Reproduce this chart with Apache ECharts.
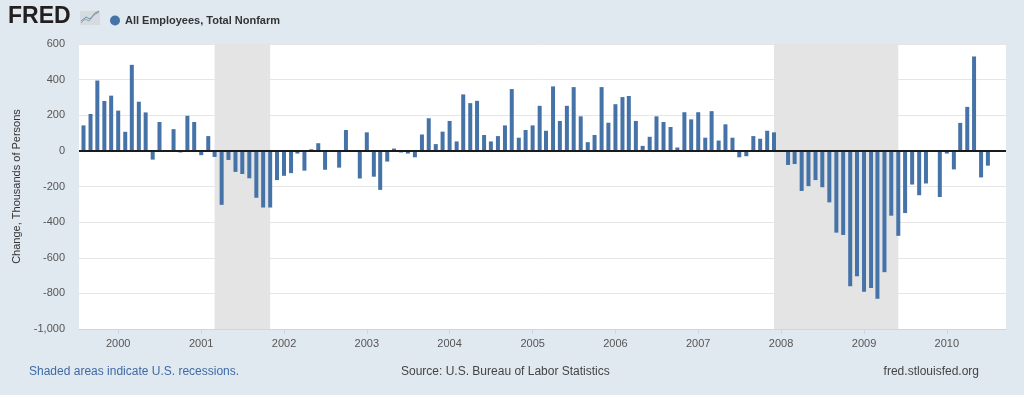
<!DOCTYPE html>
<html>
<head>
<meta charset="utf-8">
<script src="https://cdn.jsdelivr.net/npm/echarts@6/dist/echarts.min.js"></script>
<style>
html,body{margin:0;padding:0;background:#e1e9f0;}
#chart{width:1024px;height:395px;}
</style>
</head>
<body>
<div id="chart"></div>
<script>
// Monthly change, thousands of persons (Aug 1999 - Jul 2010)
const firstMonth = [1999, 8];
const v1999 = [143, 207, 395, 280, 310];            // Aug-Dec
const v2000 = [226, 107, 483, 276, 216, -49, 162, 0, 122, -9, 197, 162];
const v2001 = [-24, 83, -34, -303, -51, -118, -130, -154, -263, -318, -318, -164];
const v2002 = [-140, -125, -15, -111, 9, 43, -106, 0, -94, 117, 0, -155];
const v2003 = [104, -145, -219, -60, 13, -9, -15, -36, 92, 183, 38, 108];
const v2004 = [168, 53, 317, 268, 281, 89, 53, 83, 143, 347, 74, 117];
const v2005 = [143, 253, 113, 362, 168, 253, 358, 194, 49, 89, 358, 158];
const v2006 = [262, 302, 308, 168, 28, 79, 194, 162, 134, 19, 217, 177];
const v2007 = [217, 74, 223, 58, 149, 74, -36, -30, 83, 68, 113, 104];
const v2008 = [0, -79, -74, -225, -198, -164, -204, -289, -459, -472, -760, -704];
const v2009 = [-791, -770, -830, -681, -364, -477, -349, -189, -249, -183, 0, -259];
const v2010 = [-15, -104, 157, 247, 530, -149, -83]; // Jan-Jul

const recessions = [['2001-03-01', '2001-11-01'], ['2007-12-01', '2009-06-01']];
const yTicks = [-1000, -800, -600, -400, -200, 0, 200, 400, 600];
const seriesName = 'All Employees, Total Nonfarm';
const yName = 'Change, Thousands of Persons';

const allValues = [].concat(v1999, v2000, v2001, v2002, v2003, v2004, v2005, v2006, v2007, v2008, v2009, v2010);
const data = [];
let y = firstMonth[0], m = firstMonth[1];
for (const v of allValues) {
  data.push([y + '-' + String(m).padStart(2, '0') + '-01', v]);
  m++; if (m > 12) { m = 1; y++; }
}

const FONT = '"Liberation Sans", Arial, Helvetica, sans-serif';
const chart = echarts.init(document.getElementById('chart'), null, {renderer: 'canvas'});
chart.setOption({
  backgroundColor: '#e1e9f0',
  animation: false,
  textStyle: {fontFamily: FONT},
  legend: {
    left: 105, top: 10, icon: 'circle', itemWidth: 10, itemHeight: 10, itemGap: 5,
    textStyle: {fontFamily: FONT, fontSize: 11, fontWeight: 'bold', color: '#333'},
    data: [seriesName]
  },
  grid: {left: 79, right: 18, top: 44, bottom: 66, show: true, backgroundColor: '#ffffff', borderWidth: 0},
  xAxis: {
    type: 'time',
    min: '1999-07-21', max: '2010-09-10',
    splitNumber: 11,
    minInterval: 365 * 864e5, maxInterval: 366 * 864e5,
    axisLine: {show: true, onZero: false, lineStyle: {color: '#ccd6eb', width: 1}},
    axisTick: {show: true, length: 5, lineStyle: {color: '#ccd6eb'}},
    axisLabel: {formatter: '{yyyy}', color: '#555', fontSize: 11, margin: 9, showMinLabel: false, showMaxLabel: false, fontFamily: FONT},
    splitLine: {show: false}
  },
  yAxis: {
    type: 'value', min: yTicks[0], max: yTicks[yTicks.length - 1], interval: 200,
    name: yName, nameLocation: 'middle', nameGap: 57,
    nameTextStyle: {fontSize: 11, color: '#333', fontFamily: FONT},
    axisLine: {show: false}, axisTick: {show: false},
    axisLabel: {color: '#555', fontSize: 11, margin: 14, fontFamily: FONT,
      formatter: v => v.toLocaleString('en-US')},
    splitLine: {lineStyle: {color: '#e6e6e6', width: 1}}
  },
  series: [{
    name: seriesName, type: 'bar', data: data, barWidth: 4,
    itemStyle: {color: '#4572a7'},
    markArea: {silent: true, itemStyle: {color: '#e4e4e4'},
      data: recessions.map(r => [{xAxis: r[0]}, {xAxis: r[1]}])},
    markLine: {silent: true, symbol: ['none', 'none'], label: {show: false},
      lineStyle: {color: '#1a1a1a', width: 2, type: 'solid'}, data: [{yAxis: 0}]}
  }],
  graphic: [
    {type: 'text', left: 8, top: 5, style: {text: 'FRED', font: 'bold 23px ' + FONT, fill: '#231f20'}},
    {type: 'rect', shape: {x: 80, y: 11, width: 20, height: 14}, style: {fill: '#d5dbe0'}},
    {type: 'polyline', shape: {points: [[81, 23], [85, 19], [89, 21], [94, 15], [99, 12]]}, style: {stroke: '#8cb369', lineWidth: 1, fill: null}},
    {type: 'polyline', shape: {points: [[81, 21], [86, 17], [90, 19], [95, 13], [99, 11]]}, style: {stroke: '#6a8fc0', lineWidth: 1, fill: null}},
    {type: 'text', left: 29, top: 366, style: {text: 'Shaded areas indicate U.S. recessions.', font: '12px ' + FONT, fill: '#3e6aa6'}},
    {type: 'text', left: 401, top: 366, style: {text: 'Source: U.S. Bureau of Labor Statistics', font: '12px ' + FONT, fill: '#444'}},
    {type: 'text', right: 45, top: 366, style: {text: 'fred.stlouisfed.org', font: '12px ' + FONT, fill: '#444'}}
  ]
});
</script>
</body>
</html>
